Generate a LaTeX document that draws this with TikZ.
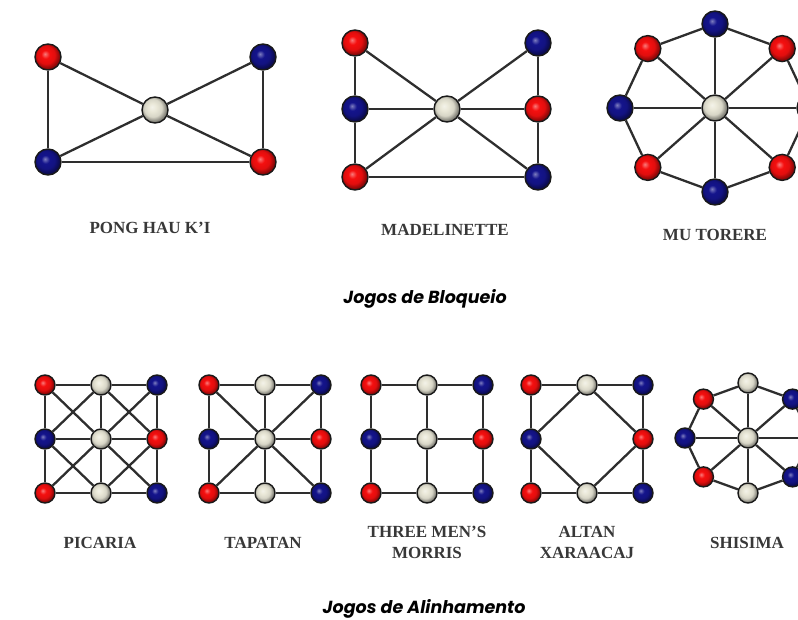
\documentclass[tikz,border=0pt]{standalone}
\usepackage{fontspec}
\setmainfont{Liberation Serif}
\newfontfamily\captionfont{Poppins}
\usepackage{xcolor}
\definecolor{redcol}{RGB}{245,15,15}
\definecolor{bluecol}{RGB}{20,20,140}
\definecolor{freecol}{RGB}{234,232,216}
\colorlet{stonecol}{redcol}
\pgfdeclareradialshading[stonecol]{stone}{\pgfqpoint{-6bp}{6bp}}{%
  color(0bp)=(stonecol!55!white); color(8bp)=(stonecol);
  color(17bp)=(stonecol!92!black); color(25bp)=(stonecol!55!black);
  color(50bp)=(stonecol!55!black)}

\tikzset{
  stone/.style={circle, draw=black!90, line width=1.4pt, inner sep=0pt, minimum size=26pt,
    /utils/exec={\colorlet{stonecol}{#1}}, shading=stone},
  small/.style={minimum size=20pt},
  link/.style={line width=2.3pt, draw=black!82},
  game name/.style={font=\bfseries\fontsize{17}{21}\selectfont, text=black!78, align=center},
  group name/.style={font=\captionfont\bfseries\itshape\fontsize{17.5}{21}\selectfont, anchor=base}
}

\begin{document}
\begin{tikzpicture}[x=1pt,y=-1pt]
  \useasboundingbox (0,0) rectangle (798,620);
  \clip (0,0) rectangle (798,620);

  % Pong Hau K'i
  \node[stone=redcol] (pk-tl) at (48,57) {};
  \node[stone=bluecol] (pk-tr) at (263,57) {};
  \node[stone=freecol] (pk-c) at (155,110) {};
  \node[stone=bluecol] (pk-bl) at (48,162) {};
  \node[stone=redcol] (pk-br) at (263,162) {};
  \draw[link] (pk-tl) -- (pk-bl) -- (pk-br) -- (pk-tr);
  \draw[link] (pk-tl) -- (pk-c) -- (pk-br);
  \draw[link] (pk-tr) -- (pk-c) -- (pk-bl);
  \node[game name] (pk-name) at (150,228) {PONG HAU K'I};

  % Madelinette
  \node[stone=redcol] (md-tl) at (355,43) {};
  \node[stone=bluecol] (md-tr) at (538,43) {};
  \node[stone=bluecol] (md-ml) at (355,109) {};
  \node[stone=freecol] (md-c) at (447,109) {};
  \node[stone=redcol] (md-mr) at (538,109) {};
  \node[stone=redcol] (md-bl) at (355,177) {};
  \node[stone=bluecol] (md-br) at (538,177) {};
  \draw[link] (md-tl) -- (md-ml) -- (md-bl) -- (md-br) -- (md-mr) -- (md-tr);
  \draw[link] (md-ml) -- (md-c) -- (md-mr);
  \draw[link] (md-tl) -- (md-c) -- (md-br);
  \draw[link] (md-tr) -- (md-c) -- (md-bl);
  \node[game name] (md-name) at (445,230) {MADELINETTE};

  % Mu Torere
  \node[stone=freecol] (mt-c) at (715,108) {};
  \foreach \i/\col in {0/bluecol,1/redcol,2/bluecol,3/redcol,4/bluecol,5/redcol,6/bluecol,7/redcol}
    \node[stone=\col] (mt-\i) at ({715+95*cos(45*\i)}, {108-84*sin(45*\i)}) {};
  \foreach \i in {0,...,7} {
    \pgfmathtruncatemacro{\j}{mod(\i+1,8)}
    \draw[link] (mt-c) -- (mt-\i);
    \draw[link] (mt-\i) -- (mt-\j);
  }
  \node[game name] (mt-name) at (715,235) {MU TORERE};

  \node[group name] (block) at (425,304) {Jogos de Bloqueio};

  % Picaria, Tapatan, Three Men's Morris, Altan Xaraacaj
  \foreach \g/\x in {pi/45,ta/209,mo/371,al/531} {
    \foreach \c/\r/\col in {1/1/redcol,2/1/freecol,3/1/bluecol,1/2/bluecol,3/2/redcol,1/3/redcol,2/3/freecol,3/3/bluecol}
      \node[stone=\col, small] (\g\c\r) at ({\x+(\c-1)*56}, {385+(\r-1)*54}) {};
  }
  \foreach \g/\x in {pi/45,ta/209,mo/371}
    \node[stone=freecol, small] (\g22) at ({\x+56},439) {};

  \foreach \g in {pi,ta,mo} {
    \foreach \k in {1,2,3} {
      \draw[link] (\g1\k) -- (\g2\k) -- (\g3\k);
      \draw[link] (\g\k1) -- (\g\k2) -- (\g\k3);
    }
  }
  \draw[link] (pi11) -- (pi22) -- (pi33);
  \draw[link] (pi31) -- (pi22) -- (pi13);
  \draw[link] (pi21) -- (pi12) -- (pi23) -- (pi32) -- (pi21);
  \draw[link] (ta11) -- (ta22) -- (ta33);
  \draw[link] (ta31) -- (ta22) -- (ta13);
  \draw[link] (al12) -- (al11) -- (al21) -- (al31) -- (al32) -- (al33) -- (al23) -- (al13) -- (al12);
  \draw[link] (al21) -- (al32) -- (al23) -- (al12) -- (al21);

  % Shisima
  \node[stone=freecol, small] (sh-c) at (748,438) {};
  \foreach \i/\col in {0/redcol,1/bluecol,2/freecol,3/redcol,4/bluecol,5/redcol,6/freecol,7/bluecol}
    \node[stone=\col, small] (sh-\i) at ({748+63*cos(45*\i)}, {438-55*sin(45*\i)}) {};
  \foreach \i in {0,...,7} {
    \pgfmathtruncatemacro{\j}{mod(\i+1,8)}
    \draw[link] (sh-c) -- (sh-\i);
    \draw[link] (sh-\i) -- (sh-\j);
  }

  \node[game name] (pi-name) at (100,543) {PICARIA};
  \node[game name] (ta-name) at (263,543) {TAPATAN};
  \node[game name] (mo-name) at (427,542) {THREE MEN'S\\MORRIS};
  \node[game name] (al-name) at (587,542) {ALTAN\\XARAACAJ};
  \node[game name] (sh-name) at (747,543) {SHISIMA};

  \node[group name] (align) at (424,613) {Jogos de Alinhamento};
\end{tikzpicture}
\end{document}
